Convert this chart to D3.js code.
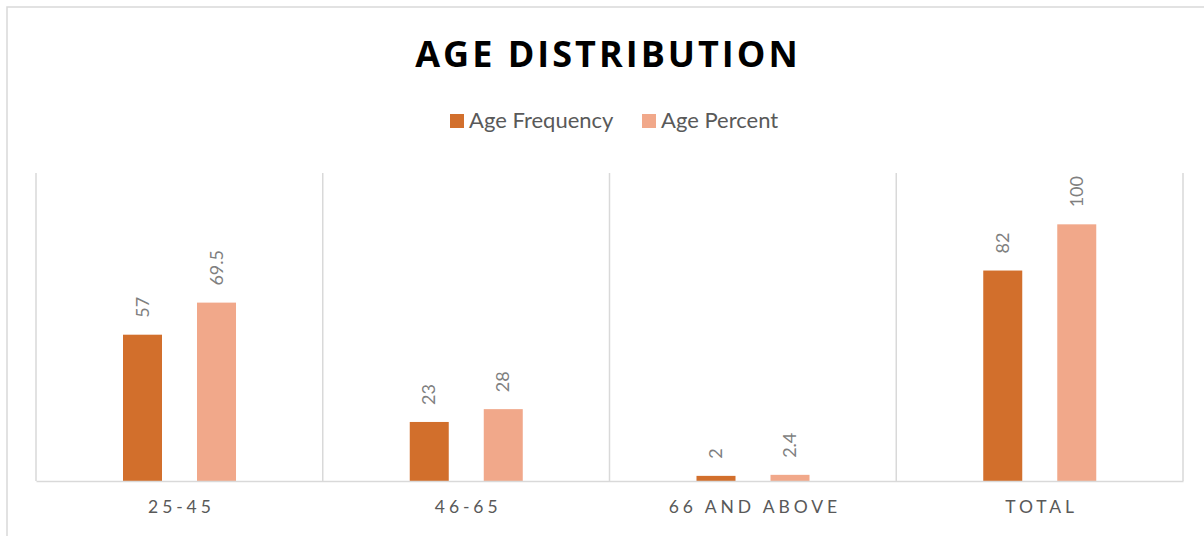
<!DOCTYPE html>
<html><head><meta charset="utf-8">
<script src="https://cdn.jsdelivr.net/npm/d3@7"></script>
<style>body{margin:0;background:#fff}svg{display:block}</style>
</head><body>
<svg id="c" width="1204" height="536"></svg>
<script>
const categories = ["25-45", "46-65", "66 AND ABOVE", "TOTAL"];
const seriesNames = ["Age Frequency", "Age Percent"];
const ageFrequency = [57, 23, 2, 82];
const agePercent = [69.5, 28, 2.4, 100];
const labelFrequency = ["57", "23", "2", "82"];
const labelPercent = ["69.5", "28", "2.4", "100"];
const colors = ["#D26F2C", "#F1A88A"];

const svg = d3.select("#c");
const font = "Lato, 'Open Sans', sans-serif";

// outer border
svg.append("rect").attr("x", 7).attr("y", 7).attr("width", 1210).attr("height", 540)
  .attr("fill", "#fff").attr("stroke", "#d9d9d9").attr("stroke-width", 1.5);

const plot = {left: 36, right: 1183, top: 173, bottom: 481};

const x = d3.scaleBand().domain(categories).range([plot.left, plot.right]).padding(0);
const y = d3.scaleLinear().domain([0, 120]).range([plot.bottom, plot.top]);
const bw = x.bandwidth();
const inner = d3.scaleBand().domain(seriesNames).range([0.3034 * bw, 0.6975 * bw]).paddingInner(0.473).paddingOuter(0);

// vertical separators
const seps = categories.map((c) => x(c)).concat([plot.right]);
svg.append("g").selectAll("line").data(seps).join("line")
  .attr("x1", d => d).attr("x2", d => d).attr("y1", plot.top).attr("y2", plot.bottom)
  .attr("stroke", "#d9d9d9").attr("stroke-width", 1.5);

// bars
const data = [ageFrequency, agePercent];
const labels = [labelFrequency, labelPercent];
seriesNames.forEach((s, si) => {
  const g = svg.append("g");
  g.selectAll("rect").data(categories).join("rect")
    .attr("x", c => x(c) + inner(s))
    .attr("width", inner.bandwidth())
    .attr("y", (c, i) => y(data[si][i]))
    .attr("height", (c, i) => y(0) - y(data[si][i]))
    .attr("fill", colors[si]);
  g.selectAll("text").data(categories).join("text")
    .attr("transform", (c, i) => `translate(${x(c) + inner(s) + inner.bandwidth() / 2 + 6},${y(data[si][i]) - 17}) rotate(-90)`)
    .attr("font-family", font).attr("font-size", 18).attr("fill", "#7f7f7f")
    .text((c, i) => labels[si][i]);
});

// baseline axis
const xAxis = d3.axisBottom(x).tickSize(0).tickPadding(20);
const ax = svg.append("g").attr("transform", `translate(0,${plot.bottom})`).call(xAxis);
ax.select(".domain").attr("stroke", "#d9d9d9").attr("stroke-width", 1.5);
ax.selectAll("text").attr("font-family", font).attr("font-size", 17.5).attr("fill", "#595959")
  .attr("letter-spacing", "3.9px").attr("dx", "2px");

// title
svg.append("text").attr("x", 608).attr("y", 67).attr("text-anchor", "middle")
  .attr("font-family", "'Open Sans', sans-serif").attr("font-weight", 700)
  .attr("font-size", 36).attr("letter-spacing", "3px").attr("fill", "#000")
  .text("AGE DISTRIBUTION");

// legend
const legX = [450, 642];
const lg = svg.append("g");
seriesNames.forEach((s, i) => {
  lg.append("rect").attr("x", legX[i]).attr("y", 114).attr("width", 14).attr("height", 14).attr("fill", colors[i]);
  lg.append("text").attr("x", legX[i] + 19).attr("y", 128)
    .attr("font-family", font).attr("font-size", 22).attr("fill", "#595959").text(s);
});
</script>
</body></html>
